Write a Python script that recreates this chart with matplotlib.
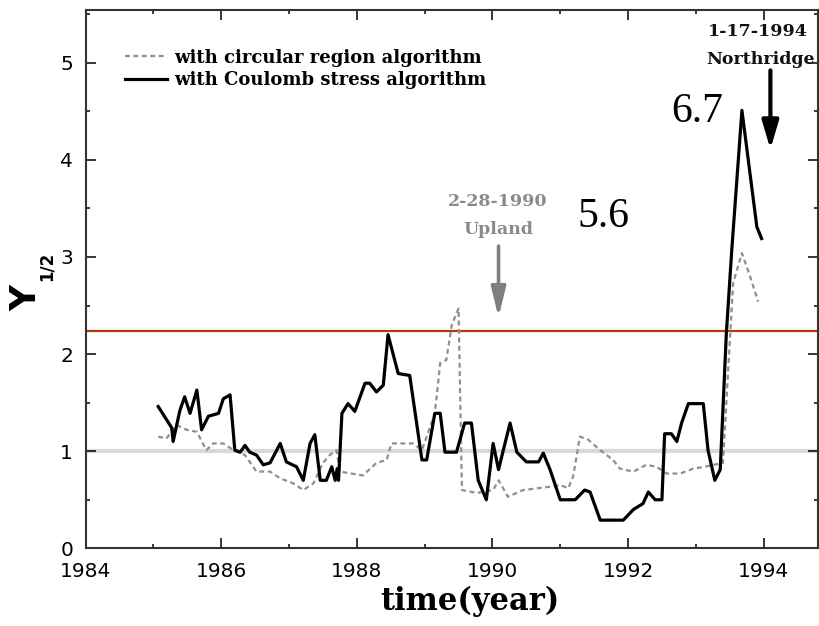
import matplotlib
matplotlib.use('Agg')
import matplotlib.pyplot as plt
from matplotlib.ticker import MultipleLocator

# Coulomb stress algorithm (solid black)
coulomb_t = [1985.07, 1985.27, 1985.29, 1985.39, 1985.46, 1985.54, 1985.64, 1985.71,
             1985.81, 1985.96, 1986.03, 1986.13, 1986.20, 1986.28, 1986.35, 1986.42,
             1986.52, 1986.62, 1986.72, 1986.87, 1986.96, 1987.11, 1987.21, 1987.31,
             1987.38, 1987.46, 1987.55, 1987.63, 1987.68, 1987.71, 1987.73, 1987.78,
             1987.87, 1987.97, 1988.12, 1988.19, 1988.29, 1988.39, 1988.46, 1988.61,
             1988.78, 1988.96, 1989.03, 1989.15, 1989.23, 1989.30, 1989.47, 1989.59,
             1989.69, 1989.79, 1989.91, 1990.01, 1990.09, 1990.16, 1990.26, 1990.36,
             1990.50, 1990.68, 1990.75, 1990.85, 1991.00, 1991.22, 1991.36, 1991.44,
             1991.59, 1991.93, 1992.08, 1992.22, 1992.30, 1992.40, 1992.50, 1992.54,
             1992.64, 1992.72, 1992.79, 1992.89, 1993.11, 1993.18, 1993.28, 1993.36,
             1993.45, 1993.53, 1993.68, 1993.90, 1993.97]
coulomb_y = [1.46, 1.24, 1.10, 1.42, 1.56, 1.39, 1.63, 1.22,
             1.36, 1.39, 1.54, 1.58, 1.01, 0.99, 1.06, 0.99,
             0.96, 0.86, 0.88, 1.08, 0.89, 0.84, 0.70, 1.08,
             1.17, 0.70, 0.70, 0.84, 0.70, 0.82, 0.70, 1.39,
             1.49, 1.41, 1.70, 1.70, 1.61, 1.68, 2.20, 1.80,
             1.78, 0.91, 0.91, 1.39, 1.39, 0.99, 0.99, 1.29,
             1.29, 0.70, 0.50, 1.08, 0.81, 1.01, 1.29, 0.99,
             0.89, 0.89, 0.98, 0.81, 0.50, 0.50, 0.60, 0.58,
             0.29, 0.29, 0.40, 0.46, 0.58, 0.50, 0.50, 1.18,
             1.18, 1.10, 1.29, 1.49, 1.49, 1.01, 0.70, 0.81,
             2.21, 3.07, 4.51, 3.31, 3.19]

# circular region algorithm (dashed grey)
circular_t = [1985.07, 1985.19, 1985.34, 1985.49, 1985.64, 1985.78, 1985.88, 1986.03,
              1986.18, 1986.35, 1986.52, 1986.72, 1986.87, 1987.06, 1987.21, 1987.36,
              1987.50, 1987.60, 1987.70, 1987.75, 1988.09, 1988.29, 1988.44, 1988.51,
              1988.83, 1988.96, 1989.15, 1989.23, 1989.32, 1989.40, 1989.50, 1989.55,
              1989.77, 1990.01, 1990.09, 1990.23, 1990.45, 1990.80, 1991.00, 1991.12,
              1991.19, 1991.29, 1991.41, 1991.59, 1991.78, 1991.88, 1992.08, 1992.27,
              1992.42, 1992.57, 1992.77, 1992.96, 1993.13, 1993.40, 1993.48, 1993.55,
              1993.68, 1993.80, 1993.92]
circular_y = [1.15, 1.13, 1.27, 1.22, 1.20, 1.01, 1.08, 1.08,
              1.01, 0.96, 0.79, 0.79, 0.72, 0.67, 0.60, 0.67,
              0.88, 0.96, 1.01, 0.79, 0.75, 0.88, 0.91, 1.08,
              1.08, 1.01, 1.39, 1.91, 1.94, 2.30, 2.47, 0.60,
              0.57, 0.60, 0.70, 0.53, 0.60, 0.63, 0.65, 0.62,
              0.74, 1.15, 1.12, 1.01, 0.91, 0.82, 0.79, 0.86,
              0.84, 0.77, 0.77, 0.82, 0.84, 0.88, 1.87, 2.73,
              3.04, 2.80, 2.54]

threshold_red = 2.24
threshold_grey = 1.0

fig = plt.figure(figsize=(8.19, 6.26), dpi=100)
ax = fig.add_axes([0.1046, 0.1241, 0.894, 0.860])

ax.axhline(threshold_grey, color='#d9d9d9', lw=3, zorder=1)
ax.axhline(threshold_red, color='#b5390e', lw=1.6, zorder=1)

ax.plot(circular_t, circular_y, color='#8f8f8f', lw=1.6, ls=(0, (2.2, 1.6)),
        label='with circular region algorithm', zorder=2)
ax.plot(coulomb_t, coulomb_y, color='black', lw=2.3,
        label='with Coulomb stress algorithm', zorder=3)

ax.set_xlim(1984, 1994.8)
ax.set_ylim(0, 5.544)
ax.xaxis.set_major_locator(MultipleLocator(2))
ax.xaxis.set_minor_locator(MultipleLocator(1))
ax.yaxis.set_major_locator(MultipleLocator(1))
ax.yaxis.set_minor_locator(MultipleLocator(0.5))
ax.tick_params(which='both', direction='in', top=True, right=True, width=1.1)
ax.tick_params(which='major', length=7)
ax.tick_params(which='minor', length=3)
ax.tick_params(axis='x', labelsize=14.5, pad=10)
ax.tick_params(axis='y', labelsize=14.5, pad=9)
for s in ax.spines.values():
    s.set_linewidth(1.5)
    s.set_color('#333333')

ax.set_xlabel('time(year)', family='DejaVu Serif', weight='bold', fontsize=22)
ax.xaxis.set_label_coords(0.525, -0.07)

fig.text(0.0317, 0.524, 'Y', rotation=90, ha='center', va='center',
         family='DejaVu Sans', weight='bold', fontsize=26)
fig.text(0.0574, 0.575, '1/2', rotation=90, ha='center', va='center',
         family='DejaVu Sans', weight='bold', fontsize=12)

ax.legend(loc='upper left', bbox_to_anchor=(0.054, 0.928), frameon=False,
          borderpad=0, borderaxespad=0, handlelength=2.3, handletextpad=0.4,
          labelspacing=0.25,
          prop={'family': 'DejaVu Serif', 'weight': 'bold', 'size': 13})

# event arrows
ax.annotate('', xy=(1990.09, 2.35), xytext=(1990.09, 3.14),
            arrowprops=dict(arrowstyle='-|>,head_length=0.9,head_width=0.22',
                            mutation_scale=20, lw=2.6, color='#7f7f7f'))
ax.text(1990.08, 3.57, '2-28-1990', ha='center', va='center', color='#8a8a8a',
        family='DejaVu Serif', weight='bold', fontsize=12.5)
ax.text(1990.08, 3.28, 'Upland', ha='center', va='center', color='#8a8a8a',
        family='DejaVu Serif', weight='bold', fontsize=12.5)

ax.annotate('', xy=(1994.1, 4.08), xytext=(1994.1, 4.95),
            arrowprops=dict(arrowstyle='-|>,head_length=0.85,head_width=0.25',
                            mutation_scale=20, lw=3.0, color='black'))
ax.text(1993.91, 5.32, '1-17-1994', ha='center', va='center', color='#111111',
        family='DejaVu Serif', weight='bold', fontsize=12.5)
ax.text(1993.95, 5.03, 'Northridge', ha='center', va='center', color='#111111',
        family='DejaVu Serif', weight='bold', fontsize=12.5)

ax.text(1993.02, 4.5, '6.7', ha='center', va='center',
        family='Liberation Serif', fontsize=30)
ax.text(1991.63, 3.41, '5.6', ha='center', va='center',
        family='Liberation Serif', fontsize=30)

fig.savefig('out.png', dpi=100)
